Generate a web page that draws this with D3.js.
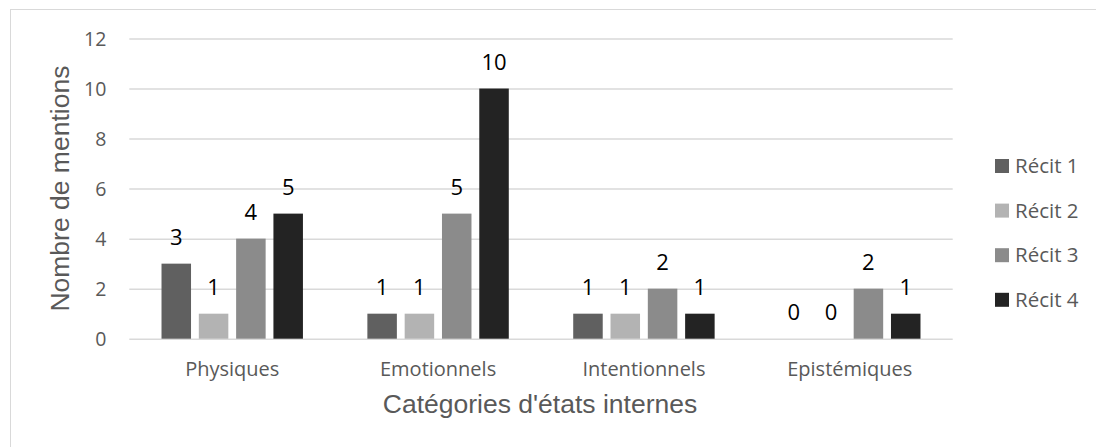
<!DOCTYPE html>
<html>
<head>
<meta charset="utf-8">
<script src="https://cdn.jsdelivr.net/npm/d3@7"></script>
<style>
  html, body { margin: 0; padding: 0; background: #ffffff; }
  svg { display: block; }
</style>
</head>
<body>
<svg id="chart" width="1096" height="447"></svg>
<script>
// Categories of internal states and the four narratives compared
const categories = ["Physiques", "Emotionnels", "Intentionnels", "Epistémiques"];
const seriesNames = ["Récit 1", "Récit 2", "Récit 3", "Récit 4"];
const recit1 = [3, 1, 1, 0];
const recit2 = [1, 1, 1, 0];
const recit3 = [4, 5, 2, 2];
const recit4 = [5, 10, 1, 1];
const yTicks = [0, 2, 4, 6, 8, 10, 12];
const yTitle = "Nombre de mentions";
const xTitle = "Catégories d'états internes";

const seriesValues = [recit1, recit2, recit3, recit4];
const colors = ["#606060", "#b3b3b3", "#8b8b8b", "#232323"];

const svg = d3.select("#chart");
const plot = { left: 129.3, right: 952.7, top: 38.5, bottom: 338.7 };

// Outer frame
svg.append("rect")
  .attr("x", 10.5).attr("y", 9.5)
  .attr("width", 1100).attr("height", 460)
  .attr("fill", "#ffffff")
  .attr("stroke", "#d9d9d9").attr("stroke-width", 1);

const x0 = d3.scaleBand().domain(categories).range([plot.left, plot.right]).padding(0);
const bw = x0.bandwidth();
const x1 = d3.scaleBand().domain(seriesNames)
  .range([bw * 0.1565, bw * 0.8435])
  .paddingInner(0.209).paddingOuter(0);
const y = d3.scaleLinear().domain([0, 12]).range([plot.bottom, plot.top]);

// Horizontal gridlines and tick labels
const yAxis = svg.append("g")
  .attr("transform", `translate(${plot.left},0)`)
  .call(d3.axisLeft(y).tickValues(yTicks).tickSize(-(plot.right - plot.left)).tickPadding(23));
yAxis.select(".domain").remove();
yAxis.selectAll(".tick line").attr("stroke", "#d9d9d9").attr("stroke-width", 1.5);
yAxis.selectAll(".tick text")
  .attr("fill", "#595959")
  .style("font-family", "'Open Sans', sans-serif")
  .style("font-size", "19.5px")
  .attr("dy", "0.36em");

// Category axis
const xAxis = svg.append("g")
  .attr("transform", `translate(0,${plot.bottom})`)
  .call(d3.axisBottom(x0).tickSize(0));
xAxis.select(".domain").remove();
xAxis.selectAll(".tick text")
  .attr("fill", "#595959")
  .attr("y", 37.8).attr("dy", 0)
  .style("font-family", "'Open Sans', sans-serif")
  .style("font-size", "20px");

// Bars grouped by category
const rows = categories.map((c, i) => ({
  category: c,
  values: seriesNames.map((s, j) => ({ series: s, idx: j, value: seriesValues[j][i] }))
}));

const groups = svg.append("g").selectAll("g")
  .data(rows).join("g")
  .attr("transform", d => `translate(${x0(d.category)},0)`);

groups.selectAll("rect")
  .data(d => d.values).join("rect")
  .attr("x", d => x1(d.series))
  .attr("y", d => y(d.value))
  .attr("width", x1.bandwidth())
  .attr("height", d => y(0) - y(d.value))
  .attr("fill", d => colors[d.idx]);

groups.selectAll("text")
  .data(d => d.values).join("text")
  .attr("x", d => x1(d.series) + x1.bandwidth() / 2)
  .attr("y", d => y(d.value) - 19)
  .attr("text-anchor", "middle")
  .attr("fill", "#000000")
  .style("font-family", "'Open Sans', sans-serif")
  .style("font-size", "22px")
  .text(d => d.value);

// Axis titles
svg.append("text")
  .attr("transform", `translate(68.5,${(plot.top + plot.bottom) / 2}) rotate(-90)`)
  .attr("text-anchor", "middle")
  .attr("fill", "#595959")
  .style("font-family", "'Liberation Sans', Arial, sans-serif")
  .style("font-size", "26.5px")
  .text(yTitle);

svg.append("text")
  .attr("x", 540).attr("y", 413.3)
  .attr("text-anchor", "middle")
  .attr("fill", "#595959")
  .style("font-family", "'Liberation Sans', Arial, sans-serif")
  .style("font-size", "26.5px")
  .text(xTitle);

// Legend
const legend = svg.append("g").selectAll("g")
  .data(seriesNames).join("g")
  .attr("transform", (d, i) => `translate(995,${166 + i * 44.6})`);
legend.append("rect")
  .attr("x", 0).attr("y", -7).attr("width", 14).attr("height", 14)
  .attr("fill", (d, i) => colors[i]);
legend.append("text")
  .attr("x", 20).attr("y", 7)
  .attr("fill", "#595959")
  .style("font-family", "'Open Sans', sans-serif")
  .style("font-size", "20.5px")
  .text(d => d);
</script>
</body>
</html>
